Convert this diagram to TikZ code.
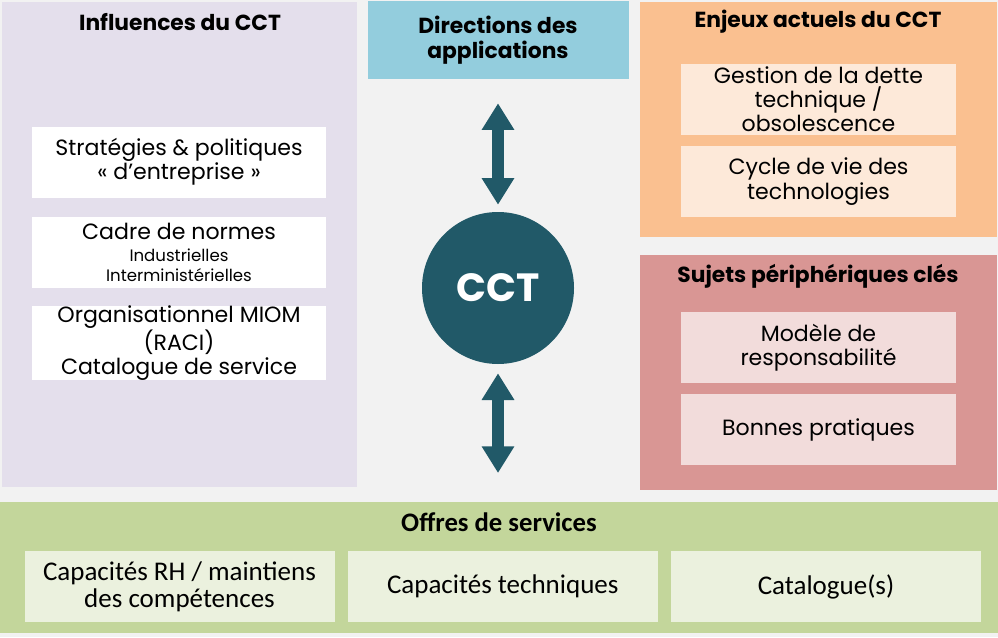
\documentclass[tikz,border=0pt]{standalone}
\usepackage{fontspec}
\setmainfont{Poppins}
\newfontfamily\calibrifont{Carlito}
\usepackage{tikz}
\usetikzlibrary{arrows.meta, positioning}
\usepackage{xcolor}
\definecolor{bgGrey}{HTML}{F2F2F2}
\definecolor{lilac}{HTML}{E4DFEC}
\definecolor{skyBlue}{HTML}{93CDDD}
\definecolor{apricot}{HTML}{FAC090}
\definecolor{apricotLight}{HTML}{FDE9D9}
\definecolor{rosePanel}{HTML}{D99694}
\definecolor{roseLight}{HTML}{F2DCDB}
\definecolor{sage}{HTML}{C3D69B}
\definecolor{sageLight}{HTML}{EBF1DE}
\definecolor{cctTeal}{HTML}{215968}
\newcommand{\titlefont}{\fontsize{15.5}{17.5}\selectfont\bfseries}
\newcommand{\bodyfont}{\fontsize{15.7}{17.2}\selectfont}
\newcommand{\smallnote}{\fontsize{11.8}{13}\selectfont}
\tikzset{%
	panel/.style={
		anchor=north west,
		inner sep=0pt,
		outer sep=0pt
	},
	panel title/.style={
		font=\titlefont,
		align=center
	},
	item box/.style={
		inner sep=0pt,
		align=center,
		font=\bodyfont
	},
	both way/.style={
		{Triangle[width=22pt,length=19pt]}-{Triangle[width=22pt,length=19pt]},
		line width=9.2pt,
		draw=cctTeal
	},
}

\begin{document}
\begin{tikzpicture}[x=0.025cm, y=-0.025cm]
			% Define the size of one pixel of the layout
			\newcommand{\px}{0.025cm}
			\useasboundingbox (0,0) rectangle (998,637);
			\fill[bgGrey] (0,0) rectangle (998,637);
			
			% Panels
			\node[panel, fill=lilac, minimum width=355*\px, minimum height=485*\px] (influences) at (2,2) {};
			\node[panel, fill=apricot, minimum width=357*\px, minimum height=235*\px] (enjeux) at (640,2) {};
			\node[panel, fill=rosePanel, minimum width=357*\px, minimum height=235*\px] (sujets) at (640,255) {};
			\node[panel, fill=sage, minimum width=998*\px, minimum height=131*\px] (offres) at (0,502) {};
			
			% Panel titles
			\node[panel title] (influencesTitle) at (180,22) {Influences du CCT};
			\node[panel title] (enjeuxTitle) at (818,22) {Enjeux actuels du CCT};
			\node[panel title] (sujetsTitle) at (818,276) {Sujets périphériques clés};
			\node[panel title, font=\calibrifont\fontsize{19}{21}\selectfont\bfseries] (offresTitle) at (499,522) {Offres de services};
			
			% Boxes of the left panel
			\foreach \txt [count=\i] in {{Stratégies \& politiques\\« d’entreprise »},{Cadre de normes\\[-2pt]{\smallnote Industrielles}\\[-3pt]{\smallnote Interministérielles}},{Organisationnel MIOM\\(RACI)\\Catalogue de service}} {
				\node[item box, fill=white, minimum width=294*\px, minimum height=71*\px] (influence\i) at (179, {162+(\i-1)*90.5}) {\txt};
			}
			
			% Boxes of the right panels
			\foreach \txt [count=\i] in {{Gestion de la dette\\technique /\\obsolescence},{Cycle de vie des\\technologies}} {
				\node[item box, fill=apricotLight, minimum width=275*\px, minimum height=71*\px] (enjeu\i) at (818.5, {99.5+(\i-1)*82}) {\txt};
			}
			\foreach \txt [count=\i] in {{Modèle de\\responsabilité},{Bonnes pratiques}} {
				\node[item box, fill=roseLight, minimum width=275*\px, minimum height=71*\px] (sujet\i) at (818.5, {347.5+(\i-1)*82}) {\txt};
			}
			
			% Boxes of the bottom panel
			\foreach \txt [count=\i] in {{Capacités RH / maintiens\\des compétences},{Capacités techniques},{Catalogue(s)}} {
				\node[item box, font=\calibrifont\fontsize{19.2}{19.4}\selectfont, fill=sageLight, minimum width=310*\px, minimum height=71*\px] (offre\i) at ({179.5+(\i-1)*323.25}, 586.5) {\txt};
			}
			
			% Centre
			\node[fill=skyBlue, minimum width=261*\px, minimum height=78*\px, panel title] (directions) at (498,40) {Directions des\\applications};
			\node[circle, fill=cctTeal, minimum size=152*\px, text=white, font=\fontsize{28}{32}\selectfont\bfseries] (cct) at (498,288) {CCT};
			
			\draw[both way, shorten <=24*\px, shorten >=7*\px] (directions.south) -- (cct.north);
			\draw[both way, shorten <=9*\px, shorten >=29*\px] (cct.south) -- (cct.south |- offres.north);
		\end{tikzpicture}
\end{document}
